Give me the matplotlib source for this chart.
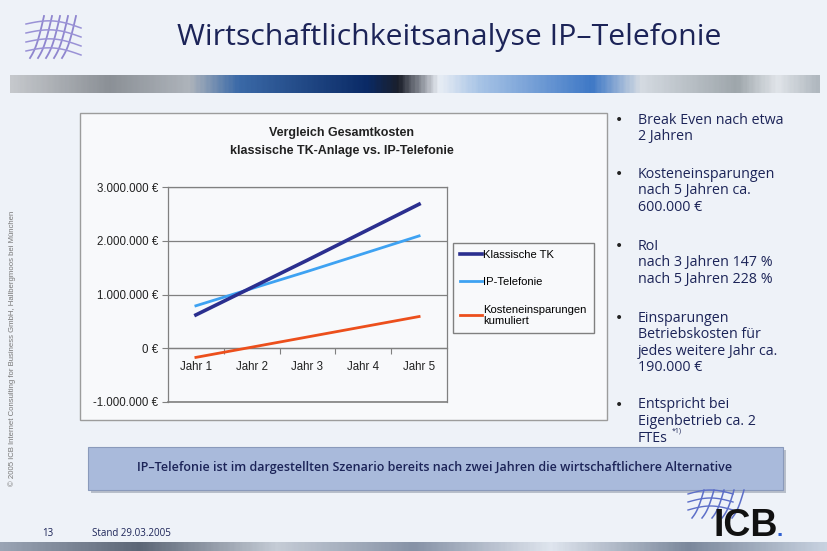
import numpy as np
import matplotlib.pyplot as plt
from matplotlib.colors import LinearSegmentedColormap
from matplotlib.patches import Rectangle

# data
jahre = ["Jahr 1", "Jahr 2", "Jahr 3", "Jahr 4", "Jahr 5"]
klassisch = [620000, 1130000, 1640000, 2160000, 2680000]
ip_telefonie = [790000, 1110000, 1430000, 1760000, 2090000]
einsparungen = [-170000, 20000, 210000, 400000, 590000]
y_ticks = [-1000000, 0, 1000000, 2000000, 3000000]

serien = ["Klassische TK", "IP-Telefonie", "Kosteneinsparungen\nkumuliert"]
farben = ["#2b2f8f", "#3ea2f2", "#ec4f1c"]

titel = "Wirtschaftlichkeitsanalyse IP\u2013Telefonie"
chart_titel = "Vergleich Gesamtkosten\nklassische TK-Anlage vs. IP-Telefonie"
bullets = [
    ["Break Even nach etwa", "2 Jahren"],
    ["Kosteneinsparungen", "nach 5 Jahren ca.", "600.000 \u20ac"],
    ["RoI", "nach 3 Jahren 147 %", "nach 5 Jahren 228 %"],
    ["Einsparungen", "Betriebskosten f\u00fcr", "jedes weitere Jahr ca.", "190.000 \u20ac"],
    ["Entspricht bei", "Eigenbetrieb ca. 2", "FTEs"],
]
fazit = "IP\u2013Telefonie ist im dargestellten Szenario bereits nach zwei Jahren die wirtschaftlichere Alternative"

W, H = 828, 551
navy = "#1c2458"

fig = plt.figure(figsize=(W / 100, H / 100), dpi=100)
fig.patch.set_facecolor("#eef2f8")

# background layer in pixel coordinates
bg = fig.add_axes([0, 0, 1, 1])
bg.set_xlim(0, W)
bg.set_ylim(H, 0)
bg.axis("off")

# top banner stripe
banner = LinearSegmentedColormap.from_list(
    "banner",
    [(0, "#c5c8cc"), (0.12, "#8b9096"), (0.22, "#aeb4bb"), (0.28, "#3b6aa8"),
     (0.44, "#0a2a66"), (0.48, "#1b1f2a"), (0.53, "#e9eef5"), (0.58, "#a8c4e6"),
     (0.72, "#3e78c6"), (0.78, "#d5dbe2"), (0.9, "#9ea6ab"), (0.95, "#e1e5ea"),
     (1, "#b0b8bf")],
)
grad = np.linspace(0, 1, 400).reshape(1, -1)
bg.imshow(grad, cmap=banner, extent=(10, 820, 93, 75), aspect="auto")

# bottom stripe
bottom_cm = LinearSegmentedColormap.from_list(
    "bottom", ["#9aa4b4", "#5c6676", "#c5ccd6", "#8692a6", "#dfe5ee", "#7b889c", "#c8d2e0"]
)
bg.imshow(grad, cmap=bottom_cm, extent=(0, W, 551, 542), aspect="auto")

# top-left logo
t = np.linspace(0, 1, 30)
for i in range(5):
    x0 = 30 + i * 8
    bg.plot(x0 + 14 * t, 58 - 42 * t + 6 * np.sin(np.pi * t), color="#8f86cf", lw=1.3)
for i in range(4):
    y0 = 24 + i * 9
    bg.plot(26 + 55 * t, y0 + 4 * t - 5 * np.sin(np.pi * t), color="#9a92d6", lw=1.1)

fig.text(177 / W, 1 - 37 / H, titel, fontsize=21.8, color=navy,
         family="Open Sans", va="center", ha="left")

# chart panel
bg.add_patch(Rectangle((80, 113), 527, 307, facecolor="#f8f9fb", edgecolor="#9c9c9c", lw=1))

fig.text(342 / W, 1 - 142 / H, chart_titel, fontsize=9, fontweight="bold",
         family="Liberation Sans", ha="center", va="center", linespacing=1.6, color="#222222")

# right bullets, one text per line
y_start = [120, 174, 246, 318, 405]
for y, zeilen in zip(y_start, bullets):
    fig.text(615 / W, 1 - y / H, "\u2022", fontsize=10, color="#222222", va="center")
    for k, zeile in enumerate(zeilen):
        fig.text(638 / W, 1 - (y + 16.6 * k) / H, zeile, fontsize=10.3, color=navy,
                 family="Open Sans", va="center", ha="left")
fig.text(672 / W, 1 - 431 / H, "*1)", fontsize=5, color=navy, family="Open Sans", va="center")

# bottom conclusion box
bg.add_patch(Rectangle((91, 450), 695, 43, facecolor="#b8bfca", edgecolor="none"))
bg.add_patch(Rectangle((88, 447), 695, 43, facecolor="#a9badb", edgecolor="#8a9abb", lw=0.8))
fig.text(435 / W, 1 - 467 / H, fazit, fontsize=9, color=navy, family="Open Sans",
         fontweight="semibold", ha="center", va="center")

# footer
fig.text(42 / W, 1 - 534 / H, "13", fontsize=7, color=navy, family="Open Sans", va="center")
fig.text(92 / W, 1 - 534 / H, "Stand 29.03.2005", fontsize=7, color=navy, family="Open Sans", va="center")
fig.text(12 / W, 1 - 348 / H,
         "\u00a9 2005 ICB Internet Consulting for Business GmbH, Hallbergmoos bei M\u00fcnchen",
         fontsize=5.6, color="#777777", rotation=90, ha="center", va="center", family="Liberation Sans")

# ICB logo
for i in range(5):
    bg.plot(692 + 10 * i + 12 * t, 518 - 28 * t + 4 * np.sin(np.pi * t), color="#5d6fc8", lw=1.1)
for i in range(3):
    bg.plot(688 + 45 * t, 494 + 8 * i - 4 * np.sin(np.pi * t), color="#5d6fc8", lw=1.0)
fig.text(714 / W, 1 - 536 / H, "ICB", fontsize=27, fontweight="bold", color="#111111",
         family="Liberation Sans", va="baseline")
fig.text(777 / W, 1 - 536 / H, ".", fontsize=16, fontweight="bold", color="#2f5fd0",
         family="Liberation Sans", va="baseline")

# line chart
ax = fig.add_axes([168 / W, 1 - 402 / H, 279 / W, 215 / H])
ax.set_facecolor("#f8f9fb")
x = np.arange(len(jahre))
ax.plot(x, klassisch, color=farben[0], lw=2.6, label=serien[0], zorder=4)
ax.plot(x, ip_telefonie, color=farben[1], lw=2.0, label=serien[1], zorder=3)
ax.plot(x, einsparungen, color=farben[2], lw=2.0, label=serien[2], zorder=3)

ax.set_xlim(-0.5, len(jahre) - 0.5)
ax.set_ylim(y_ticks[0], y_ticks[-1])
ax.set_yticks(y_ticks)
ax.set_yticklabels([f"{v:,.0f}".replace(",", ".") + " \u20ac" for v in y_ticks],
                   fontsize=8.3, family="Liberation Sans", color="#222222")
ax.yaxis.grid(True, color="#808080", lw=0.9)
ax.tick_params(axis="y", direction="out", length=4, width=0.8, color="#808080", pad=3)

ax.spines["bottom"].set_position(("data", 0))
for s in ax.spines.values():
    s.set_color("#808080")
    s.set_linewidth(0.9)
ax.set_xticks(np.arange(len(jahre) - 1) + 0.5)
ax.set_xticklabels([])
ax.tick_params(axis="x", which="major", direction="out", length=4, width=0.8, color="#808080")
ax.set_xticks(x, minor=True)
ax.set_xticklabels(jahre, minor=True, fontsize=8.3, family="Liberation Sans", color="#222222")
ax.tick_params(axis="x", which="minor", length=0, pad=9)
ax.axhline(y_ticks[0], color="#808080", lw=1.2, clip_on=False)

ax.legend(loc="upper left", bbox_to_anchor=(453 / W, 1 - 243 / H), bbox_transform=fig.transFigure,
          prop={"family": "Liberation Sans", "size": 8.1}, frameon=True, fancybox=False,
          edgecolor="#808080", facecolor="#f8f9fb", framealpha=1, handlelength=2.0,
          handletextpad=0.1, labelspacing=1.55, borderpad=0.6, borderaxespad=0)

fig.savefig("out.png", dpi=100, facecolor=fig.get_facecolor())
